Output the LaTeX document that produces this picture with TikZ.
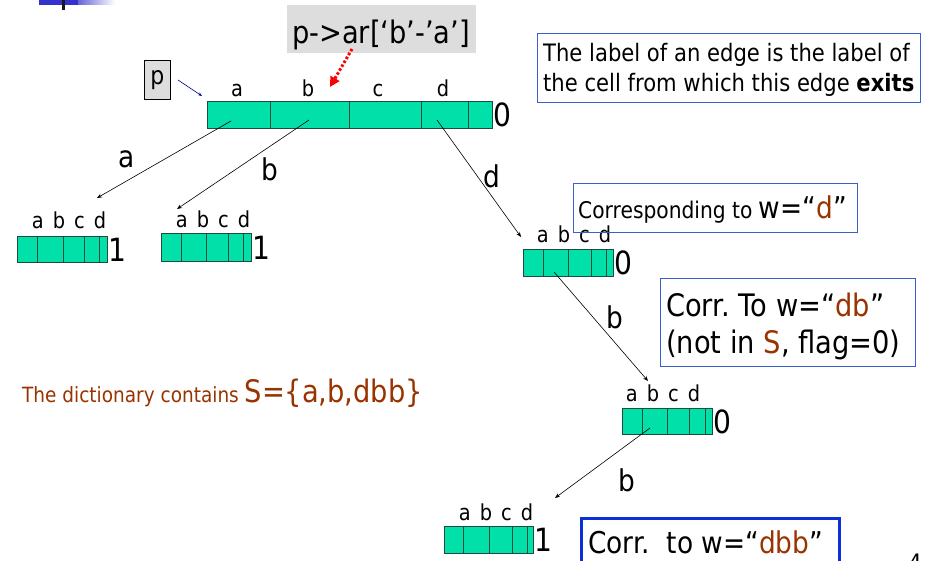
\documentclass[tikz,border=0pt]{standalone}
\usepackage{fontspec}
\setmainfont[FakeStretch=0.88]{DejaVu Sans}
\usetikzlibrary{arrows.meta}
\definecolor{cellgreen}{HTML}{00E0A8}
\definecolor{celledge}{HTML}{1F4A3C}
\definecolor{dictbrown}{HTML}{993300}
\definecolor{boxblue}{HTML}{3A5FD0}
\definecolor{boxbluedark}{HTML}{0B30D8}
\definecolor{graybox}{HTML}{DDDDDD}
\definecolor{barblue}{HTML}{3333CC}
\newcommand\myfs[1]{\fontsize{#1}{#1}\selectfont}
\newcommand\abcdlbl{a\hskip 9pt b\hskip 9pt c\hskip 9pt d}
\frenchspacing
\begin{document}
\begin{tikzpicture}[x=1pt,y=-1pt,
  arr/.style={draw=celledge,line width=1pt,fill=cellgreen,inner sep=0pt,anchor=north west},
  cellsep/.style={draw=celledge,line width=0.8pt},
  flag/.style={anchor=west,inner sep=0pt,font=\myfs{32}},
  lbls/.style={inner sep=0pt,anchor=base,font=\myfs{22}},
  edgearrow/.style={draw=black,line width=0.6pt,-{Stealth[length=5pt,width=4pt]}},
  elbl/.style={inner sep=0pt,anchor=base,font=\myfs{30}},
  notebox/.style={draw=boxblue,line width=0.9pt,anchor=north west,inner sep=0pt},
  notetext/.style={anchor=base west,inner sep=0pt}
]
\clip (0,0) rectangle (930,561);
% slide decoration
\fill[barblue] (39,0) rectangle (78,5);
\shade[left color=barblue!75,right color=white] (78,0) rectangle (115,5);
\fill[black!90] (62,0) rectangle (65,10);

% root array
\node[arr,minimum width=285pt,minimum height=27pt] (A0) at (207,101) {};
\foreach \d in {270,349,421,468} \draw[cellsep] (\d,101) -- (\d,128);
\node[flag] (f0) at (A0.east) {0};
\node[lbls] (l0a) at (237,97) {a};
\node[lbls] (l0b) at (308,97) {b};
\node[lbls] (l0c) at (378,97) {c};
\node[lbls] (l0d) at (443,97) {d};

% child a
\node[arr,minimum width=90pt,minimum height=26pt] (A1) at (17,236) {};
\foreach \d in {37,63,84,99} \draw[cellsep] (\d,236) -- (\d,262);
\node[flag] (f1) at (A1.east) {1};
\node[lbls] (l1) at (69,229) {\abcdlbl};

% child b
\node[arr,minimum width=90pt,minimum height=28pt] (A2) at (161,233) {};
\foreach \d in {181,206,228,243} \draw[cellsep] (\d,233) -- (\d,261);
\node[flag] (f2) at (A2.east) {1};
\node[lbls] (l2) at (213,228) {\abcdlbl};

% child d
\node[arr,minimum width=90pt,minimum height=27pt] (A3) at (523,249) {};
\foreach \d in {543,568,591,606} \draw[cellsep] (\d,249) -- (\d,276);
\node[flag] (f3) at (A3.east) {0};
\node[lbls] (l3) at (574,243) {\abcdlbl};

% child db
\node[arr,minimum width=90pt,minimum height=26pt] (A4) at (622,408) {};
\foreach \d in {642,667,689,705} \draw[cellsep] (\d,408) -- (\d,434);
\node[flag] (f4) at (A4.east) {0};
\node[lbls] (l4) at (663,402) {\abcdlbl};

% child dbb
\node[arr,minimum width=89pt,minimum height=27pt] (A5) at (444,526) {};
\foreach \d in {463,489,512,527} \draw[cellsep] (\d,526) -- (\d,553);
\node[flag] (f5) at (A5.east) {1};
\node[lbls] (l5) at (496,520) {\abcdlbl};

% edges
\coordinate (sa) at (231,121); \coordinate (ta) at (97,198);
\coordinate (sb) at (309,120); \coordinate (tb) at (177,209);
\coordinate (sd) at (437,120); \coordinate (td) at (521,237);
\coordinate (sdb) at (554,272); \coordinate (tdb) at (648,381);
\coordinate (sdbb) at (650,428); \coordinate (tdbb) at (555,498);
\draw[edgearrow] (sa) -- (ta);
\draw[edgearrow] (sb) -- (tb);
\draw[edgearrow] (sd) -- (td);
\draw[edgearrow] (sdb) -- (tdb);
\draw[edgearrow] (sdbb) -- (tdbb);
\node[elbl] (ela) at (127,168) {a};
\node[elbl] (elb) at (270,181) {b};
\node[elbl] (eld) at (492,188) {d};
\node[elbl] (eldb) at (615,329) {b};
\node[elbl] (eldbb) at (627,491) {b};

% pointer p
\node[draw=black,line width=0.8pt,fill=graybox,anchor=north west,minimum width=26pt,minimum height=39pt,inner sep=0pt,font=\myfs{25}] (pbox) at (144,60) {p};
\coordinate (ps) at (178,80); \coordinate (pt) at (202,96);
\draw[draw=blue!60!black,line width=0.6pt,-{Stealth[length=4pt,width=3pt]}] (ps) -- (pt);

% expression box
\node[fill=graybox,anchor=north west,minimum width=189pt,minimum height=48pt,inner sep=0pt] (expr) at (287,5) {};
\node[anchor=base,inner sep=0pt,font=\myfs{31}] (exprt) at (381,44) {p->ar[‘b’-’a’]};
\coordinate (rs) at (352,49); \coordinate (rt) at (330,87);
\draw[red,line width=3pt,dash pattern=on 2.5pt off 2pt,-{Triangle[length=10pt,width=10pt]}] (rs) -- (rt);

% note 1
\node[notebox,minimum width=383pt,minimum height=69pt] (n1) at (537,33) {};
\node[notetext,font=\myfs{24}] (n1a) at (543,62) {The label of an edge is the label of};
\node[notetext,font=\myfs{24}] (n1b) at (543,92) {the cell from which this edge \textbf{exits}};
% note 2
\node[notebox,minimum width=284pt,minimum height=49pt] (n2) at (573,183) {};
\node[notetext] (n2t) at (578,219) {{\myfs{23}Corresponding to }{\myfs{30}w=“\textcolor{dictbrown}{d}”}};
% note 3
\node[notebox,minimum width=255pt,minimum height=88pt] (n3) at (660,278) {};
\node[notetext,font=\myfs{31}] (n3a) at (666,317) {Corr. To w=“\textcolor{dictbrown}{db}”};
\node[notetext,font=\myfs{31}] (n3b) at (666,354) {(not in \textcolor{dictbrown}{S}, flag=0)};
% note 4
\node[draw=boxbluedark,line width=3pt,anchor=north west,minimum width=258pt,minimum height=60pt,inner sep=0pt] (n4) at (580,517) {};
\node[notetext,font=\myfs{30}] (n4t) at (588,553) {Corr.~~to w=“\textcolor{dictbrown}{dbb}”};

% dictionary text
\node[notetext,text=dictbrown] (dict) at (22,403)
  {{\myfs{21}The dictionary contains }{\myfs{31}S=\{a,b,dbb\}}};

% page number (cut)
\node[anchor=north,inner sep=0pt,font=\myfs{24}] (pg) at (915,554) {4};
\end{tikzpicture}
\end{document}
